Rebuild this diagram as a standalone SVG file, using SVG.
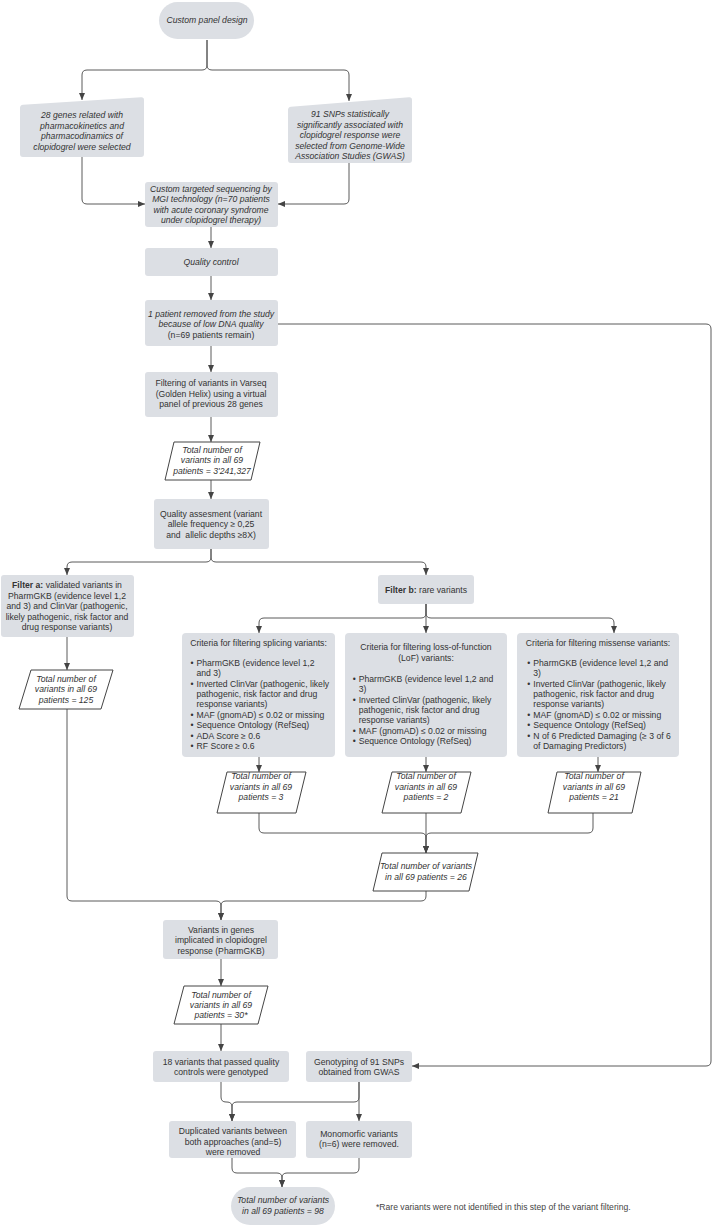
<svg xmlns="http://www.w3.org/2000/svg" width="714" height="1226" viewBox="0 0 714 1226">
<style>
.b{fill:#dcdfe4}
.p{fill:#fff;stroke:#444;stroke-width:1;stroke-linejoin:round}
text{font-family:"Liberation Sans",Arial,sans-serif;font-size:8.65px;fill:#333}
.i{font-style:italic}
.m{text-anchor:middle}
.c{fill:none;stroke:#5a5a5a;stroke-width:1;marker-end:url(#ah)}
.n{fill:none;stroke:#5a5a5a;stroke-width:1}
.f{font-size:8.6px;fill:#444}
</style>
<defs>
<marker id="ah" viewBox="0 0 7 6" refX="7" refY="3" markerWidth="7" markerHeight="6" markerUnits="userSpaceOnUse" orient="auto"><path d="M0,0 L7,3 L0,6 z" fill="#444"/></marker>
</defs>
<rect width="714" height="1226" fill="#fff"/>
<g id="connectors">
<path class="c" d="M207,40 V65 Q207,70 202,70 H87 Q82,70 82,75 V100"/>
<path class="c" d="M207,40 V65 Q207,70 212,70 H344 Q349,70 349,75 V101"/>
<path class="c" d="M82,157 V199 Q82,204 87,204 H145"/>
<path class="c" d="M349,163 V199 Q349,204 344,204 H278"/>
<path class="c" d="M211,227 V248"/>
<path class="c" d="M211,276 V300"/>
<path class="c" d="M278,324 H706 Q711,324 711,329 V1061 Q711,1066 706,1066 H412"/>
<path class="c" d="M211,346 V372"/>
<path class="c" d="M211,417 V442"/>
<path class="c" d="M211,480 V499"/>
<path class="c" d="M211,549 V557 Q211,562 206,562 H72 Q67,562 67,567 V575"/>
<path class="c" d="M211,549 V557 Q211,562 216,562 H421 Q426,562 426,567 V575"/>
<path class="c" d="M67,637 V670"/>
<path class="c" d="M67,709 V896 Q67,901 72,901 H216 Q221,901 221,906 V920"/>
<path class="c" d="M426,604 V613 Q426,618 421,618 H264 Q259,618 259,623 V633"/>
<path class="c" d="M426,604 V633"/>
<path class="c" d="M426,604 V613 Q426,618 431,618 H609 Q614,618 614,623 V633"/>
<path class="c" d="M259,757 V772"/>
<path class="c" d="M426,757 V772"/>
<path class="c" d="M598,757 V772"/>
<path class="c" d="M259,813 V828 Q259,833 264,833 H421 Q426,833 426,838 V853"/>
<path class="c" d="M426,813 V853"/>
<path class="c" d="M593,813 V828 Q593,833 588,833 H431 Q426,833 426,838 V853"/>
<path class="c" d="M426,891 V896 Q426,901 421,901 H226 Q221,901 221,906 V920"/>
<path class="c" d="M221,959 V986"/>
<path class="c" d="M221,1024 V1051"/>
<path class="c" d="M221,1082 V1097 Q221,1102 226,1102 H227 Q232,1102 232,1107 V1121"/>
<path class="c" d="M359,1082 V1097 Q359,1102 354,1102 H237 Q232,1102 232,1107 V1121"/>
<path class="c" d="M359,1082 V1121"/>
<path class="c" d="M232,1158 V1168 Q232,1173 237,1173 H277 Q282,1173 282,1178 V1187"/>
<path class="c" d="M359,1158 V1168 Q359,1173 354,1173 H287 Q282,1173 282,1178 V1187"/>
</g>
<g id="n-start">
<rect class="b" x="159" y="2" width="95" height="37" rx="18.5"/>
<text class="i m" x="207" y="22.5">Custom panel design</text>
</g>
<g id="n-genes">
<path class="b" d="M20,108 Q20,105 23,104.8 L141,97.2 Q144,97 144,100 V154 Q144,157 141,157 H23 Q20,157 20,154 Z"/>
<text class="i m" x="82"><tspan x="82" y="118">28 genes related with</tspan><tspan x="82" y="128.5">pharmacokinetics and</tspan><tspan x="82" y="139">pharmacodinamics of</tspan><tspan x="82" y="149.5">clopidogrel were selected</tspan></text>
</g>
<g id="n-snps">
<path class="b" d="M288,110 Q288,107 291,106.8 L409,97.2 Q412,97 412,100 V160 Q412,163 409,163 H291 Q288,163 288,160 Z"/>
<text class="i m"><tspan x="350" y="117">91 SNPs statistically</tspan><tspan x="350" y="127.5">significantly associated with</tspan><tspan x="350" y="138">clopidogrel response were</tspan><tspan x="350" y="148.5">selected from Genome-Wide</tspan><tspan x="350" y="159">Association Studies (GWAS)</tspan></text>
</g>
<g id="n-seq">
<rect class="b" x="145" y="182" width="133" height="45" rx="3"/>
<text class="i m"><tspan x="211" y="191.5">Custom targeted sequencing by</tspan><tspan x="211" y="202">MGI technology (n=70 patients</tspan><tspan x="211" y="212.5">with acute coronary syndrome</tspan><tspan x="211" y="223">under clopidogrel therapy)</tspan></text>
</g>
<g id="n-qc">
<rect class="b" x="145" y="248" width="133" height="28" rx="3"/>
<text class="i m" x="211" y="264.5">Quality control</text>
</g>
<g id="n-removed">
<rect class="b" x="145" y="300" width="133" height="46" rx="3"/>
<text class="m"><tspan class="i" x="211" y="316.5">1 patient removed from the study</tspan><tspan class="i" x="211" y="327">because of low DNA quality</tspan><tspan x="211" y="337.5">(n=69 patients remain)</tspan></text>
</g>
<g id="n-filtering">
<rect class="b" x="145" y="372" width="133" height="45" rx="3"/>
<text class="m"><tspan x="211" y="386">Filtering of variants in Varseq</tspan><tspan x="211" y="396.5">(Golden Helix) using a virtual</tspan><tspan x="211" y="407">panel of previous 28 genes</tspan></text>
</g>
<g id="n-total1">
<path class="p" d="M174,442 H260 L251,480 H165 Z"/>
<text class="i m"><tspan x="212" y="452.5">Total number of</tspan><tspan x="212" y="463">variants in all 69</tspan><tspan x="212" y="473.5">patients = 3'241,327</tspan></text>
</g>
<g id="n-qa">
<rect class="b" x="154" y="499" width="115" height="50" rx="3"/>
<text class="m"><tspan x="211" y="516.5">Quality assesment (variant</tspan><tspan x="211" y="527">allele frequency ≥ 0,25</tspan><tspan x="211" y="537.5">and &#160;allelic depths ≥8X)</tspan></text>
</g>
<g id="n-filtera">
<rect class="b" x="1" y="575" width="133" height="62" rx="3"/>
<text class="m"><tspan x="67" y="588"><tspan font-weight="bold">Filter a:</tspan> validated variants in</tspan><tspan x="67" y="598.5">PharmGKB (evidence level 1,2</tspan><tspan x="67" y="609">and 3) and ClinVar (pathogenic,</tspan><tspan x="67" y="619.5">likely pathogenic, risk factor and</tspan><tspan x="67" y="630">drug response variants)</tspan></text>
</g>
<g id="n-total125">
<path class="p" d="M31,670 H113 L101,709 H19 Z"/>
<text class="i m"><tspan x="66" y="681.5">Total number of</tspan><tspan x="66" y="692">variants in all 69</tspan><tspan x="66" y="702.5">patients = 125</tspan></text>
</g>
<g id="n-filterb">
<rect class="b" x="378" y="575" width="96" height="29" rx="3"/>
<text class="m" x="426" y="592.5"><tspan font-weight="bold">Filter b:</tspan> rare variants</text>
</g>
<g id="n-splicing">
<rect class="b" x="182" y="633" width="153" height="124" rx="4"/>
<text class="m" x="258.5" y="645.7">Criteria for filtering splicing variants:</text>
<text><tspan x="190.5" y="665.7">•</tspan><tspan x="196.5" y="665.7">PharmGKB (evidence level 1,2</tspan><tspan x="196.5" y="676.1">and 3)</tspan><tspan x="190.5" y="686.5">•</tspan><tspan x="196.5" y="686.5">Inverted ClinVar (pathogenic, likely</tspan><tspan x="196.5" y="696.9">pathogenic, risk factor and drug</tspan><tspan x="196.5" y="707.3">response variants)</tspan><tspan x="190.5" y="717.7">•</tspan><tspan x="196.5" y="717.7">MAF (gnomAD) ≤ 0.02 or missing</tspan><tspan x="190.5" y="728.1">•</tspan><tspan x="196.5" y="728.1">Sequence Ontology (RefSeq)</tspan><tspan x="190.5" y="738.5">•</tspan><tspan x="196.5" y="738.5">ADA Score ≥ 0.6</tspan><tspan x="190.5" y="748.9">•</tspan><tspan x="196.5" y="748.9">RF Score ≥ 0.6</tspan></text>
</g>
<g id="n-lof">
<rect class="b" x="345" y="633" width="162" height="124" rx="4"/>
<text class="m"><tspan x="426" y="650.3">Criteria for filtering loss-of-function</tspan><tspan x="426" y="660.7">(LoF) variants:</tspan></text>
<text><tspan x="352.7" y="681.7">•</tspan><tspan x="358.7" y="681.7">PharmGKB (evidence level 1,2 and</tspan><tspan x="358.7" y="692.1">3)</tspan><tspan x="352.7" y="702.5">•</tspan><tspan x="358.7" y="702.5">Inverted ClinVar (pathogenic, likely</tspan><tspan x="358.7" y="712.9">pathogenic, risk factor and drug</tspan><tspan x="358.7" y="723.3">response variants)</tspan><tspan x="352.7" y="733.7">•</tspan><tspan x="358.7" y="733.7">MAF (gnomAD) ≤ 0.02 or missing</tspan><tspan x="352.7" y="744.1">•</tspan><tspan x="358.7" y="744.1">Sequence Ontology (RefSeq)</tspan></text>
</g>
<g id="n-missense">
<rect class="b" x="517" y="633" width="162" height="124" rx="4"/>
<text class="m" x="598" y="645.7">Criteria for filtering missense variants:</text>
<text><tspan x="527.3" y="665.7">•</tspan><tspan x="533.3" y="665.7">PharmGKB (evidence level 1,2 and</tspan><tspan x="533.3" y="676.1">3)</tspan><tspan x="527.3" y="686.5">•</tspan><tspan x="533.3" y="686.5">Inverted ClinVar (pathogenic, likely</tspan><tspan x="533.3" y="696.9">pathogenic, risk factor and drug</tspan><tspan x="533.3" y="707.3">response variants)</tspan><tspan x="527.3" y="717.7">•</tspan><tspan x="533.3" y="717.7">MAF (gnomAD) ≤ 0.02 or missing</tspan><tspan x="527.3" y="728.1">•</tspan><tspan x="533.3" y="728.1">Sequence Ontology (RefSeq)</tspan><tspan x="527.3" y="738.5">•</tspan><tspan x="533.3" y="738.5">N of 6 Predicted Damaging (≥ 3 of 6</tspan><tspan x="533.3" y="748.9">of Damaging Predictors)</tspan></text>
</g>
<g id="n-total3">
<path class="p" d="M227,772 H306 L296,813 H217 Z"/>
<text class="i m"><tspan x="261" y="779">Total number of</tspan><tspan x="261" y="789.5">variants in all 69</tspan><tspan x="261" y="800">patients = 3</tspan></text>
</g>
<g id="n-total2">
<path class="p" d="M392,772 H471 L461,813 H382 Z"/>
<text class="i m"><tspan x="426" y="779">Total number of</tspan><tspan x="426" y="789.5">variants in all 69</tspan><tspan x="426" y="800">patients = 2</tspan></text>
</g>
<g id="n-total21">
<path class="p" d="M557,772 H641 L632,813 H548 Z"/>
<text class="i m"><tspan x="594" y="779">Total number of</tspan><tspan x="594" y="789.5">variants in all 69</tspan><tspan x="594" y="800">patients = 21</tspan></text>
</g>
<g id="n-total26">
<path class="p" d="M382,853 H478 L469,891 H373 Z"/>
<text class="i m"><tspan x="426" y="869">Total number of variants</tspan><tspan x="426" y="879.5">in all 69 patients = 26</tspan></text>
</g>
<g id="n-genes2">
<rect class="b" x="163" y="920" width="115" height="39" rx="3"/>
<text class="m"><tspan x="221" y="932.5">Variants in genes</tspan><tspan x="221" y="943">implicated in clopidogrel</tspan><tspan x="221" y="953.5">response (PharmGKB)</tspan></text>
</g>
<g id="n-total30">
<path class="p" d="M184,986 H268 L258,1024 H174 Z"/>
<text class="i m"><tspan x="221" y="997.5">Total number of</tspan><tspan x="221" y="1008">variants in all 69</tspan><tspan x="221" y="1018">patients = 30*</tspan></text>
</g>
<g id="n-18">
<rect class="b" x="153" y="1051" width="136" height="31" rx="3"/>
<text class="m"><tspan x="221" y="1064.5">18 variants that passed quality</tspan><tspan x="221" y="1075">controls were genotyped</tspan></text>
</g>
<g id="n-geno">
<rect class="b" x="306" y="1051" width="106" height="31" rx="3"/>
<text class="m"><tspan x="359" y="1064.5">Genotyping of 91 SNPs</tspan><tspan x="359" y="1075">obtained from GWAS</tspan></text>
</g>
<g id="n-dup">
<rect class="b" x="169" y="1121" width="127" height="37" rx="3"/>
<text class="m"><tspan x="233" y="1134">Duplicated variants between</tspan><tspan x="233" y="1144.5">both approaches (and=5)</tspan><tspan x="233" y="1155">were removed</tspan></text>
</g>
<g id="n-mono">
<rect class="b" x="306" y="1121" width="106" height="37" rx="3"/>
<text class="m"><tspan x="359" y="1136.5">Monomorfic variants</tspan><tspan x="359" y="1147">(n=6) were removed.</tspan></text>
</g>
<g id="n-final">
<rect class="b" x="231" y="1187" width="104" height="38" rx="19"/>
<text class="i m"><tspan x="283" y="1203">Total number of variants</tspan><tspan x="283" y="1213.5">in all 69 patients = 98</tspan></text>
</g>
<text class="f" x="376" y="1209.5">*Rare variants were not identified in this step of the variant filtering.</text>
</svg>
